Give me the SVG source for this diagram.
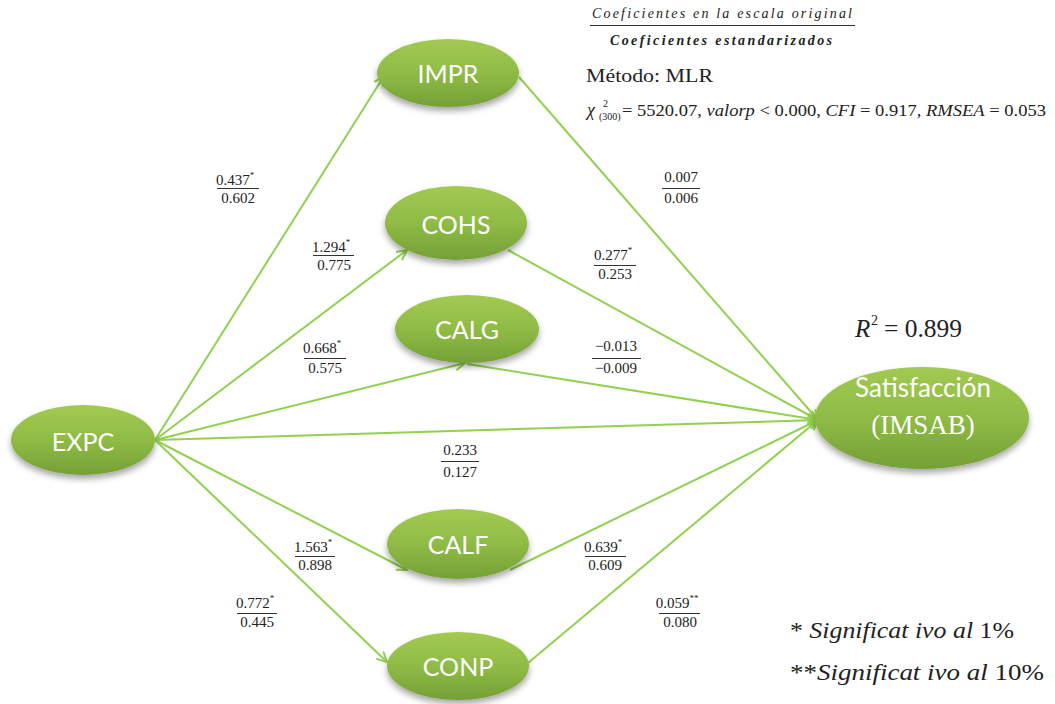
<svg xmlns="http://www.w3.org/2000/svg" width="1055" height="704" viewBox="0 0 1055 704">
  <defs>
    <linearGradient id="nodeFill" x1="0" y1="0" x2="0" y2="1">
      <stop offset="0" stop-color="#a2ca52"/>
      <stop offset="0.5" stop-color="#8fbb45"/>
      <stop offset="1" stop-color="#74a036"/>
    </linearGradient>
    <filter id="nodeShadow" x="-20%" y="-20%" width="140%" height="150%">
      <feDropShadow dx="0" dy="4" stdDeviation="3" flood-color="#000" flood-opacity="0.35"/>
    </filter>
    <marker id="arrow" markerUnits="userSpaceOnUse" markerWidth="14" markerHeight="14" refX="11" refY="6" orient="auto">
      <path d="M1,1 L11,6 L1,11" fill="none" stroke="#92d050" stroke-width="2"/>
    </marker>
    <style>
      .node ellipse { fill: url(#nodeFill); filter: url(#nodeShadow); }
      .node text { fill: #ffffff; font-family: Lato, "Open Sans", sans-serif; font-size: 25px; text-anchor: middle; }
      .edge { stroke: #92d050; stroke-width: 2; fill: none; marker-end: url(#arrow); }
      .coef text { font-family: "Liberation Serif", serif; font-size: 15px; fill: #222; text-anchor: middle; }
      .coef line { stroke: #333; stroke-width: 1; }
      .sup { font-size: 9px; }
      .tnr { font-family: "Liberation Serif", "Times New Roman", serif; fill: #222; }
    </style>
  </defs>

  <!-- path connectors -->
  <g id="connectors">
    <line class="edge" x1="155" y1="440" x2="384" y2="76"/>
    <line class="edge" x1="155" y1="440" x2="407" y2="250"/>
    <line class="edge" x1="155" y1="440" x2="465" y2="363"/>
    <line class="edge" x1="155" y1="440" x2="818" y2="420"/>
    <line class="edge" x1="155" y1="440" x2="407" y2="570"/>
    <line class="edge" x1="155" y1="440" x2="387" y2="662"/>
    <line class="edge" x1="519" y1="77" x2="818" y2="420"/>
    <line class="edge" x1="508" y1="250" x2="818" y2="420"/>
    <line class="edge" x1="467" y1="364" x2="818" y2="420"/>
    <line class="edge" x1="510" y1="570" x2="818" y2="420"/>
    <line class="edge" x1="528" y1="663" x2="818" y2="420"/>
  </g>

  <!-- latent variables -->
  <g id="IMPR" class="node">
    <ellipse cx="448" cy="73" rx="71" ry="34"/>
    <text x="448" y="83">IMPR</text>
  </g>
  <g id="COHS" class="node">
    <ellipse cx="456" cy="223" rx="71" ry="37"/>
    <text x="456" y="234">COHS</text>
  </g>
  <g id="CALG" class="node">
    <ellipse cx="467" cy="329" rx="72" ry="34"/>
    <text x="467" y="339">CALG</text>
  </g>
  <g id="EXPC" class="node">
    <ellipse cx="83" cy="440" rx="72" ry="35"/>
    <text x="83" y="451">EXPC</text>
  </g>
  <g id="CALF" class="node">
    <ellipse cx="458" cy="544" rx="71" ry="35"/>
    <text x="458" y="554">CALF</text>
  </g>
  <g id="CONP" class="node">
    <ellipse cx="458" cy="666" rx="71" ry="34"/>
    <text x="458" y="676">CONP</text>
  </g>
  <g id="IMSAB" class="node">
    <ellipse cx="922" cy="418" rx="107" ry="51"/>
    <text x="923" y="397" style="font-size: 26px;">Satisfacción</text>
    <text x="923" y="434" style="font-family: 'Liberation Serif', serif; font-size: 27px;">(IMSAB)</text>
  </g>

  <!-- path coefficients: original scale over standardized -->
  <g id="coefficients" class="coef">
    <g><text x="235" y="185">0.437<tspan class="sup" dy="-7">*</tspan></text><line x1="217" y1="188.5" x2="259" y2="188.5"/><text x="238" y="203">0.602</text></g>
    <g><text x="331" y="252">1.294<tspan class="sup" dy="-7">*</tspan></text><line x1="313" y1="255.5" x2="354" y2="255.5"/><text x="334" y="270">0.775</text></g>
    <g><text x="322" y="353">0.668<tspan class="sup" dy="-7">*</tspan></text><line x1="304" y1="358.5" x2="346" y2="358.5"/><text x="325" y="373">0.575</text></g>
    <g><text x="460" y="455">0.233</text><line x1="441" y1="461.5" x2="479" y2="461.5"/><text x="460" y="477">0.127</text></g>
    <g><text x="313" y="552">1.563<tspan class="sup" dy="-7">*</tspan></text><line x1="295" y1="556.5" x2="335" y2="556.5"/><text x="315" y="570">0.898</text></g>
    <g><text x="255" y="608">0.772<tspan class="sup" dy="-7">*</tspan></text><line x1="237" y1="613.5" x2="277" y2="613.5"/><text x="257" y="627">0.445</text></g>
    <g><text x="681" y="182">0.007</text><line x1="662" y1="188.5" x2="700" y2="188.5"/><text x="681" y="203">0.006</text></g>
    <g><text x="613" y="260">0.277<tspan class="sup" dy="-7">*</tspan></text><line x1="594" y1="265.5" x2="636" y2="265.5"/><text x="615" y="279">0.253</text></g>
    <g><text x="616" y="351">−0.013</text><line x1="592" y1="358.5" x2="641" y2="358.5"/><text x="616" y="373">−0.009</text></g>
    <g><text x="603" y="552">0.639<tspan class="sup" dy="-7">*</tspan></text><line x1="585" y1="556.5" x2="626" y2="556.5"/><text x="605" y="570">0.609</text></g>
    <g><text x="677" y="608">0.059<tspan class="sup" dy="-7">**</tspan></text><line x1="659" y1="613.5" x2="700" y2="613.5"/><text x="680" y="627">0.080</text></g>
  </g>

  <!-- legend of the coefficient fraction and fit statistics -->
  <g id="fit-info">
    <text x="592" y="18" class="tnr" font-style="italic" font-size="14" textLength="260" lengthAdjust="spacing">Coeficientes en la escala original</text>
    <line x1="590" y1="25.5" x2="855" y2="25.5" stroke="#333" stroke-width="1.2"/>
    <text x="610" y="45" class="tnr" font-style="italic" font-weight="bold" font-size="14" textLength="222" lengthAdjust="spacing">Coeficientes estandarizados</text>
    <text x="586" y="82" class="tnr" font-size="19" textLength="127" lengthAdjust="spacingAndGlyphs">Método: MLR</text>
    <text x="587" y="116" class="tnr" font-size="18" font-style="italic">χ</text>
    <text x="603" y="107" class="tnr" font-size="10">2</text>
    <text x="599" y="120" class="tnr" font-size="10">(300)</text>
    <text x="622" y="116" class="tnr" font-size="17" textLength="424" lengthAdjust="spacingAndGlyphs">= 5520.07, <tspan font-style="italic">valorp</tspan> &lt; 0.000, <tspan font-style="italic">CFI</tspan> = 0.917, <tspan font-style="italic">RMSEA</tspan> = 0.053</text>
    <text x="855" y="337" class="tnr" font-size="25" font-style="italic">R</text>
    <text x="871" y="325" class="tnr" font-size="14">2</text>
    <text x="884" y="337" class="tnr" font-size="25" textLength="78" lengthAdjust="spacingAndGlyphs">= 0.899</text>
  </g>

  <g id="significance">
    <text x="790" y="638" class="tnr" font-size="24" textLength="224" lengthAdjust="spacingAndGlyphs">* <tspan font-style="italic">Significat ivo al </tspan>1%</text>
    <text x="790" y="680" class="tnr" font-size="24" textLength="254" lengthAdjust="spacingAndGlyphs">**<tspan font-style="italic">Significat ivo al </tspan>10%</text>
  </g>
</svg>
